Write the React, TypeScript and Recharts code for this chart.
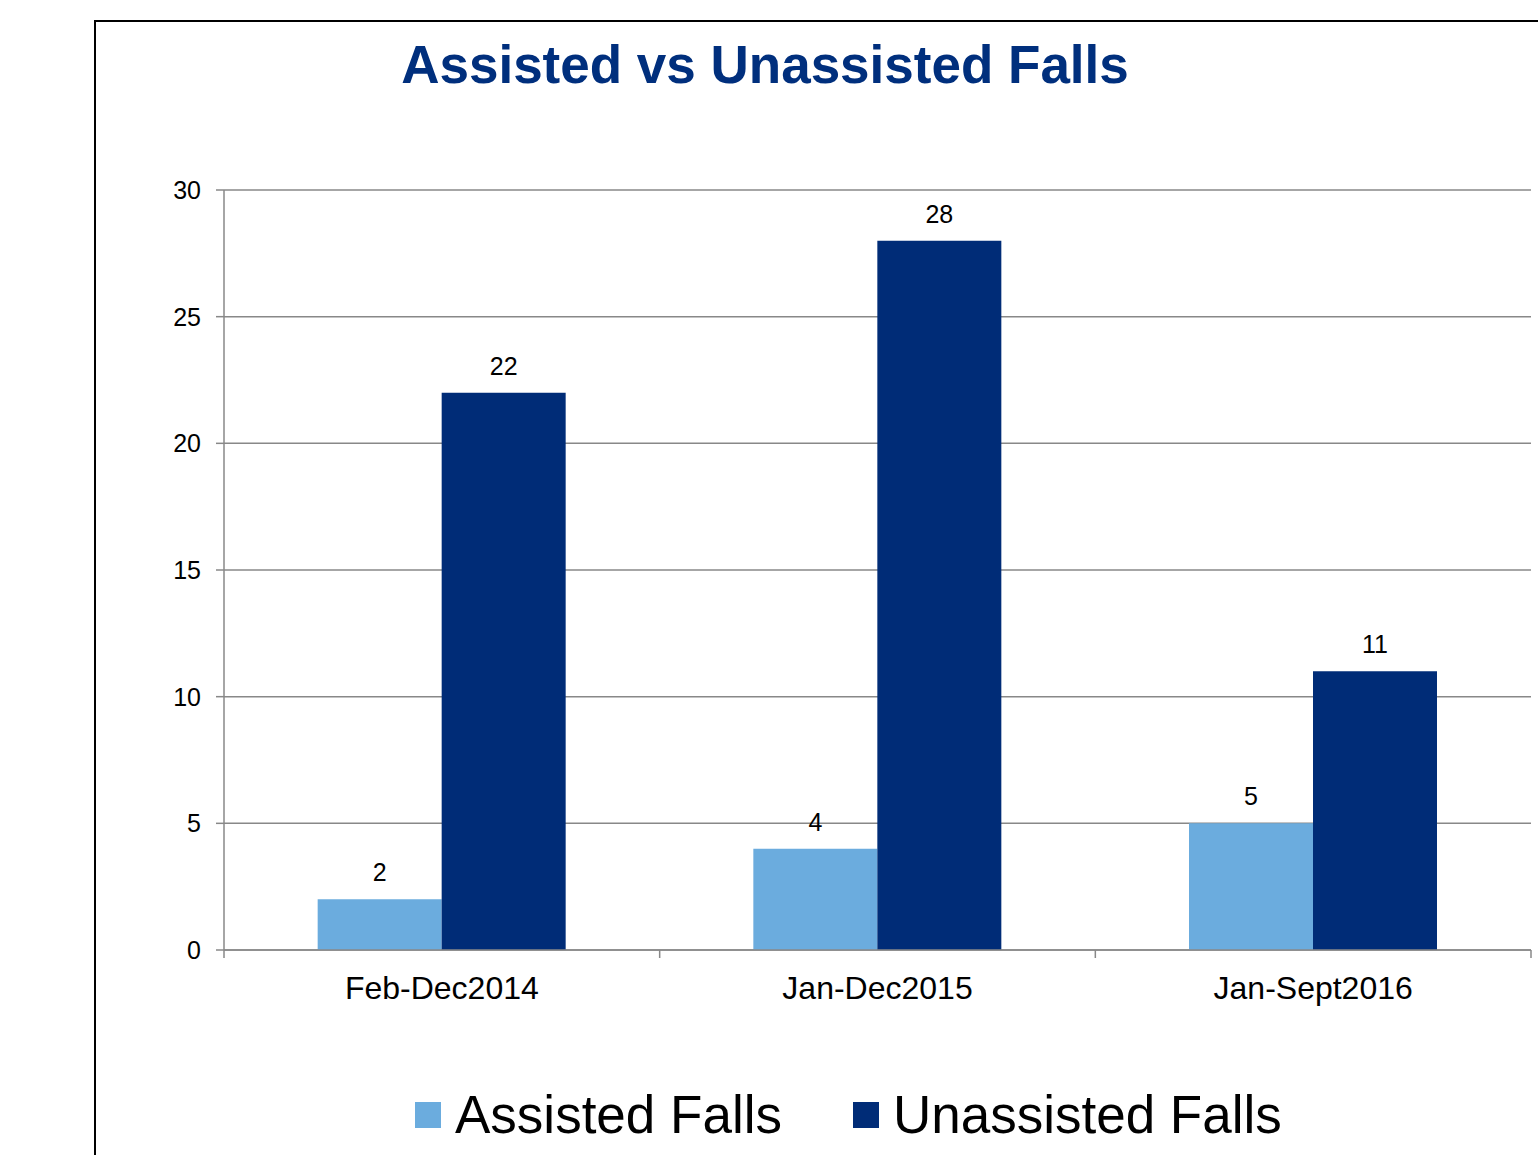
import { BarChart, Bar, XAxis, YAxis, CartesianGrid, LabelList, Legend } from "recharts"

const periods = ["Feb-Dec2014", "Jan-Dec2015", "Jan-Sept2016"]
const assistedFalls = [2, 4, 5]
const unassistedFalls = [22, 28, 11]
const yTicks = [0, 5, 10, 15, 20, 25, 30]

const data = periods.map((period, i) => ({
  period,
  assisted: assistedFalls[i],
  unassisted: unassistedFalls[i],
}))

const W = 1538
const H = 1155
const Y_AXIS_W = 60
// bottom margin leaves room for the legend height that recharts adds on its own
const margin = { top: 190, right: 7, bottom: 109, left: 164 }
const plotW = W - margin.left - Y_AXIS_W - margin.right
const band = plotW / periods.length
const X_TICK_MARGIN = 10

const FONT = '"Liberation Sans", Arial, Helvetica, sans-serif'
const GRID = "#888888"
const LIGHT = "#6BACDE"
const DARK = "#002C77"
const TITLE = "#002F7D"

function PeriodTick(props: any) {
  const { x, y, payload, index } = props
  const axisY = y - X_TICK_MARGIN
  const half = band / 2
  return (
    <g>
      <line x1={x - half} x2={x - half} y1={axisY} y2={axisY + 8} stroke={GRID} strokeWidth={1.5} />
      {index === periods.length - 1 && (
        <line x1={x + half} x2={x + half} y1={axisY} y2={axisY + 8} stroke={GRID} strokeWidth={1.5} />
      )}
      <text x={x} y={axisY + 49} textAnchor="middle" fontSize={32} fill="#000" fontFamily={FONT}>
        {payload.value}
      </text>
    </g>
  )
}

function FallsLegend(props: any) {
  const { payload } = props
  return (
    <div style={{ display: "flex", alignItems: "center", fontFamily: FONT }}>
      {payload.map((item: any, i: number) => (
        <div
          key={item.value}
          style={{ display: "flex", alignItems: "center", marginLeft: i === 0 ? 0 : 71 }}
        >
          <span style={{ width: 26, height: 26, background: item.color, display: "inline-block", marginRight: 14 }} />
          <span style={{ fontSize: 53, color: "#000", lineHeight: "66px" }}>{item.value}</span>
        </div>
      ))}
    </div>
  )
}

export default function App() {
  return (
    <div
      style={{
        position: "absolute",
        left: 0,
        top: 0,
        width: W,
        height: H,
        overflow: "hidden",
        background: "#fff",
        fontFamily: FONT,
      }}
    >
      <div
        style={{
          position: "absolute",
          left: 94,
          top: 20,
          width: W,
          height: H,
          borderLeft: "2px solid #000",
          borderTop: "2px solid #000",
        }}
      />
      <div
        style={{
          position: "absolute",
          left: 0,
          top: 32,
          width: 1530,
          textAlign: "center",
          fontSize: 53,
          fontWeight: "bold",
          color: TITLE,
          lineHeight: "66px",
        }}
      >
        Assisted vs Unassisted Falls
      </div>
      <div style={{ position: "absolute", left: 0, top: 0 }}>
        <BarChart width={W} height={H} data={data} margin={margin} barCategoryGap="21.5%" barGap={0}>
          <CartesianGrid vertical={false} stroke={GRID} strokeWidth={1.5} />
          <XAxis
            dataKey="period"
            interval={0}
            tickLine={false}
            tickSize={0}
            tickMargin={X_TICK_MARGIN}
            axisLine={{ stroke: GRID, strokeWidth: 1.5 }}
            tick={<PeriodTick />}
          />
          <YAxis
            width={Y_AXIS_W}
            domain={[0, 30]}
            ticks={yTicks}
            interval={0}
            tickSize={8}
            tickMargin={15}
            axisLine={{ stroke: GRID, strokeWidth: 1.5 }}
            tickLine={{ stroke: GRID, strokeWidth: 1.5 }}
            tick={{ fontSize: 25, fill: "#000", fontFamily: FONT }}
          />
          <Legend
            content={<FallsLegend />}
            wrapperStyle={{ left: 415, top: 1082, width: "auto" }}
          />
          <Bar dataKey="assisted" name="Assisted Falls" fill={LIGHT} isAnimationActive={false}>
            <LabelList dataKey="assisted" position="top" offset={18} fill="#000" fontSize={25} fontFamily={FONT} />
          </Bar>
          <Bar dataKey="unassisted" name="Unassisted Falls" fill={DARK} isAnimationActive={false}>
            <LabelList dataKey="unassisted" position="top" offset={18} fill="#000" fontSize={25} fontFamily={FONT} />
          </Bar>
        </BarChart>
      </div>
    </div>
  )
}
